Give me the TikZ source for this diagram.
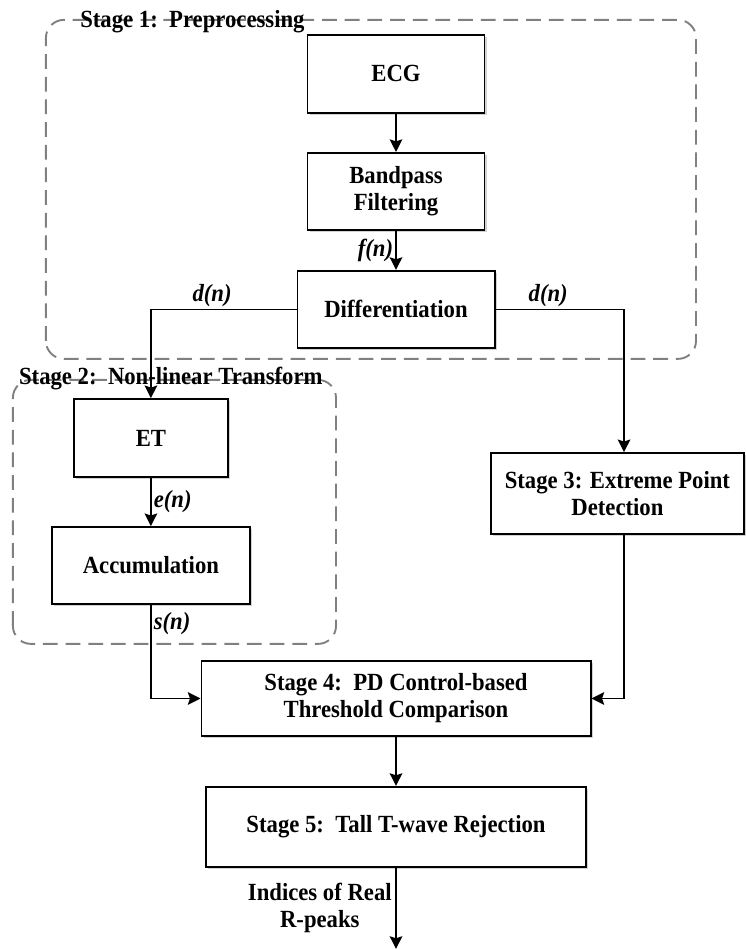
\documentclass[tikz,border=0pt]{standalone}
\usepackage{fontspec}
\setmainfont{Liberation Serif}[FakeStretch=0.92]
\usepackage{tikz}
\usetikzlibrary{arrows.meta,shadows}

\tikzset{
  stagebox/.style={draw, line width=1.8pt, fill=white, align=center,
    font=\bfseries\fontsize{23.4}{25.6}\selectfont,
    drop shadow={shadow xshift=2pt, shadow yshift=-2pt, fill=black!35, opacity=0.5}},
  grouparea/.style={draw=black!50, line width=1.8pt, dash pattern=on 14pt off 7.5pt, rounded corners=0.6cm},
  grouptitle/.style={font=\bfseries\fontsize{23.4}{25.6}\selectfont, anchor=west, inner sep=0pt},
  flowarrow/.style={line width=1.5pt, -{Stealth[length=12pt,width=12pt,inset=2pt]}},
  siglabel/.style={font=\bfseries\itshape\fontsize{23.4}{25.6}\selectfont, inner sep=2pt}
}

\begin{document}
\begin{tikzpicture}
\useasboundingbox (0,0) rectangle (24.833,31.633);

% Drawing stage areas
\draw[grouparea] (1.53,19.67) rectangle (23.2,30.97);
\node[grouptitle] (title1) at (2.67,30.9) {Stage 1:\ \ Preprocessing};
\draw[grouparea] (0.43,10.17) rectangle (11.2,18.97);
\node[grouptitle] (title2) at (0.63,19.03) {Stage 2:\ \ Non-linear Transform};

% Drawing blocks
\node[stagebox, minimum width=5.9cm, minimum height=2.6cm] (ecg) at (13.2,29.17) {ECG};
\node[stagebox, minimum width=5.9cm, minimum height=2.57cm] (bpf) at (13.2,25.25) {Bandpass\\Filtering};
\node[stagebox, minimum width=6.57cm, minimum height=2.57cm] (diff) at (13.2,21.32) {Differentiation};
\node[stagebox, minimum width=5.13cm, minimum height=2.6cm] (et) at (5.03,17.03) {ET};
\node[stagebox, minimum width=6.6cm, minimum height=2.57cm] (acc) at (5.03,12.78) {Accumulation};
\node[stagebox, minimum width=8.43cm, minimum height=2.7cm] (s3) at (20.58,15.18) {Stage 3: Extreme Point\\Detection};
\node[stagebox, minimum width=12.97cm, minimum height=2.5cm] (s4) at (13.2,8.35) {Stage 4:\ \ PD Control-based\\Threshold Comparison};
\node[stagebox, minimum width=12.67cm, minimum height=2.67cm] (s5) at (13.2,4.07) {Stage 5:\ \ Tall T-wave Rejection};
\path (s5.south) ++(0,-2.7) coordinate (rpeaks);

% Drawing connections
\draw[flowarrow] (ecg) -- (bpf);
\draw[flowarrow] (bpf) -- node[siglabel, left] {f(n)} (diff);
\draw[flowarrow] (diff.west) -| node[siglabel, above, pos=0.29] {d(n)} (et.north);
\draw[flowarrow] (diff.east) -| node[siglabel, above, pos=0.205] {d(n)} ([xshift=0.22cm]s3.north);
\draw[flowarrow] (et) -- node[siglabel, right] {e(n)} (acc);
\draw[flowarrow] (acc.south) |- node[siglabel, right, pos=0.1] {s(n)} (s4.west);
\draw[flowarrow] ([xshift=0.22cm]s3.south) |- (s4.east);
\draw[flowarrow] (s4) -- (s5);
\draw[flowarrow] (s5.south) -- node[left, align=center, font=\bfseries\fontsize{23.4}{25.6}\selectfont] {Indices of Real\\R-peaks} (rpeaks);
\end{tikzpicture}
\end{document}
